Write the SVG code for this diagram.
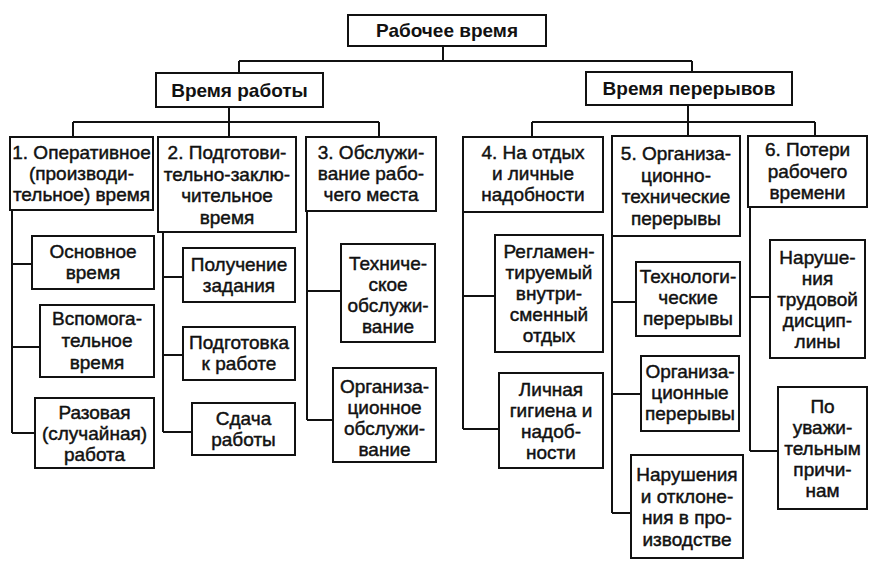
<svg xmlns="http://www.w3.org/2000/svg" width="883" height="566" viewBox="0 0 883 566">
<style>
.box{fill:#fff;stroke:#111;stroke-width:2}
.con{fill:none;stroke:#111;stroke-width:2}
text{font-family:"Liberation Sans",Arial,sans-serif;fill:#111;text-anchor:middle}
.t{font-size:19px;stroke:#111;stroke-width:0.45}
.h{font-size:19px;font-weight:bold}
</style>
<rect width="883" height="566" fill="#fff"/>
<g id="connectors">
<path class="con" d="M443,46V61M239,61H692M239,61V73M692,61V72"/>
<path class="con" d="M229,107V122M73,122H379M73,122V137M229,122V137M379,122V137"/>
<path class="con" d="M688,105V122M532,122H815M532,122V137M688,122V136M815,122V136"/>
<path class="con" d="M12,210V433M12,264H32M12,347H40M12,433H35"/>
<path class="con" d="M163,232V432M163,277H183M163,355H183M163,432H192"/>
<path class="con" d="M307,211V420M307,291H341M307,420H333"/>
<path class="con" d="M463,212V429M463,296H495M463,429H499"/>
<path class="con" d="M612,236V513M612,302H636M612,394H641M612,513H631"/>
<path class="con" d="M750,207V451M750,297H770M750,451H778"/>
</g>
<g id="n-root"><rect class="box" x="348" y="15" width="198" height="31"/><text class="h" x="447" y="37">Рабочее время</text></g>
<g id="n-work"><rect class="box" x="156" y="73" width="167" height="34"/><text class="h" x="239.5" y="97">Время работы</text></g>
<g id="n-breaks"><rect class="box" x="586" y="72" width="206" height="33"/><text class="h" x="689" y="95">Время перерывов</text></g>

<g id="n1"><rect class="box" x="10" y="137" width="143" height="73"/><text class="t" x="81.5" y="159">1. Оперативное<tspan x="81.5" dy="21">(производи-</tspan><tspan x="81.5" dy="21">тельное) время</tspan></text></g>
<g id="n2"><rect class="box" x="158" y="137" width="138" height="95"/><text class="t" x="227" y="159">2. Подготови-<tspan x="227" dy="21.5">тельно-заклю-</tspan><tspan x="227" dy="21.5">чительное</tspan><tspan x="227" dy="21.5">время</tspan></text></g>
<g id="n3"><rect class="box" x="306" y="137" width="130" height="74"/><text class="t" x="371" y="159">3. Обслужи-<tspan x="371" dy="21">вание рабо-</tspan><tspan x="371" dy="21">чего места</tspan></text></g>
<g id="n4"><rect class="box" x="463" y="137" width="140" height="75"/><text class="t" x="533" y="159">4. На отдых<tspan x="533" dy="21">и личные</tspan><tspan x="533" dy="21">надобности</tspan></text></g>
<g id="n5"><rect class="box" x="612" y="136" width="128" height="100"/><text class="t" x="676" y="160">5. Организа-<tspan x="676" dy="21.5">ционно-</tspan><tspan x="676" dy="21.5">технические</tspan><tspan x="676" dy="21.5">перерывы</tspan></text></g>
<g id="n6"><rect class="box" x="748" y="136" width="119" height="71"/><text class="t" x="807.5" y="156">6. Потери<tspan x="807.5" dy="21.5">рабочего</tspan><tspan x="807.5" dy="21.5">времени</tspan></text></g>

<g id="n1a"><rect class="box" x="32" y="236" width="122" height="53"/><text class="t" x="93" y="258">Основное<tspan x="93" dy="21">время</tspan></text></g>
<g id="n1b"><rect class="box" x="40" y="305" width="114" height="72"/><text class="t" x="97" y="325">Вспомога-<tspan x="97" dy="22">тельное</tspan><tspan x="97" dy="22">время</tspan></text></g>
<g id="n1c"><rect class="box" x="35" y="398" width="119" height="70"/><text class="t" x="94.5" y="419">Разовая<tspan x="94.5" dy="21">(случайная)</tspan><tspan x="94.5" dy="21">работа</tspan></text></g>

<g id="n2a"><rect class="box" x="183" y="248" width="112" height="54"/><text class="t" x="239" y="271">Получение<tspan x="239" dy="21">задания</tspan></text></g>
<g id="n2b"><rect class="box" x="183" y="327" width="112" height="53"/><text class="t" x="239" y="349">Подготовка<tspan x="239" dy="21">к работе</tspan></text></g>
<g id="n2c"><rect class="box" x="192" y="403" width="103" height="52"/><text class="t" x="243.5" y="425">Сдача<tspan x="243.5" dy="21">работы</tspan></text></g>

<g id="n3a"><rect class="box" x="341" y="244" width="94" height="98"/><text class="t" x="388" y="270">Техниче-<tspan x="388" dy="21">ское</tspan><tspan x="388" dy="21">обслужи-</tspan><tspan x="388" dy="21">вание</tspan></text></g>
<g id="n3b"><rect class="box" x="333" y="368" width="103" height="94"/><text class="t" x="384.5" y="393">Организа-<tspan x="384.5" dy="21">ционное</tspan><tspan x="384.5" dy="21">обслужи-</tspan><tspan x="384.5" dy="21">вание</tspan></text></g>

<g id="n4a"><rect class="box" x="495" y="235" width="108" height="117"/><text class="t" x="549" y="258">Регламен-<tspan x="549" dy="21">тируемый</tspan><tspan x="549" dy="21">внутри-</tspan><tspan x="549" dy="21">сменный</tspan><tspan x="549" dy="21">отдых</tspan></text></g>
<g id="n4b"><rect class="box" x="499" y="373" width="104" height="95"/><text class="t" x="551" y="396">Личная<tspan x="551" dy="21">гигиена и</tspan><tspan x="551" dy="21">надоб-</tspan><tspan x="551" dy="21">ности</tspan></text></g>

<g id="n5a"><rect class="box" x="636" y="262" width="104" height="74"/><text class="t" x="688" y="283">Технологи-<tspan x="688" dy="21">ческие</tspan><tspan x="688" dy="21">перерывы</tspan></text></g>
<g id="n5b"><rect class="box" x="641" y="356" width="98" height="75"/><text class="t" x="690" y="378">Организа-<tspan x="690" dy="21">ционные</tspan><tspan x="690" dy="21">перерывы</tspan></text></g>
<g id="n5c"><rect class="box" x="631" y="455" width="112" height="103"/><text class="t" x="687" y="481">Нарушения<tspan x="687" dy="21.5">и отклоне-</tspan><tspan x="687" dy="21.5">ния в про-</tspan><tspan x="687" dy="21.5">изводстве</tspan></text></g>

<g id="n6a"><rect class="box" x="770" y="240" width="95" height="118"/><text class="t" x="817.5" y="264">Наруше-<tspan x="817.5" dy="21">ния</tspan><tspan x="817.5" dy="21">трудовой</tspan><tspan x="817.5" dy="21">дисцип-</tspan><tspan x="817.5" dy="21">лины</tspan></text></g>
<g id="n6b"><rect class="box" x="778" y="387" width="89" height="122"/><text class="t" x="822.5" y="413">По<tspan x="822.5" dy="21">уважи-</tspan><tspan x="822.5" dy="21">тельным</tspan><tspan x="822.5" dy="21">причи-</tspan><tspan x="822.5" dy="21">нам</tspan></text></g>
</svg>
